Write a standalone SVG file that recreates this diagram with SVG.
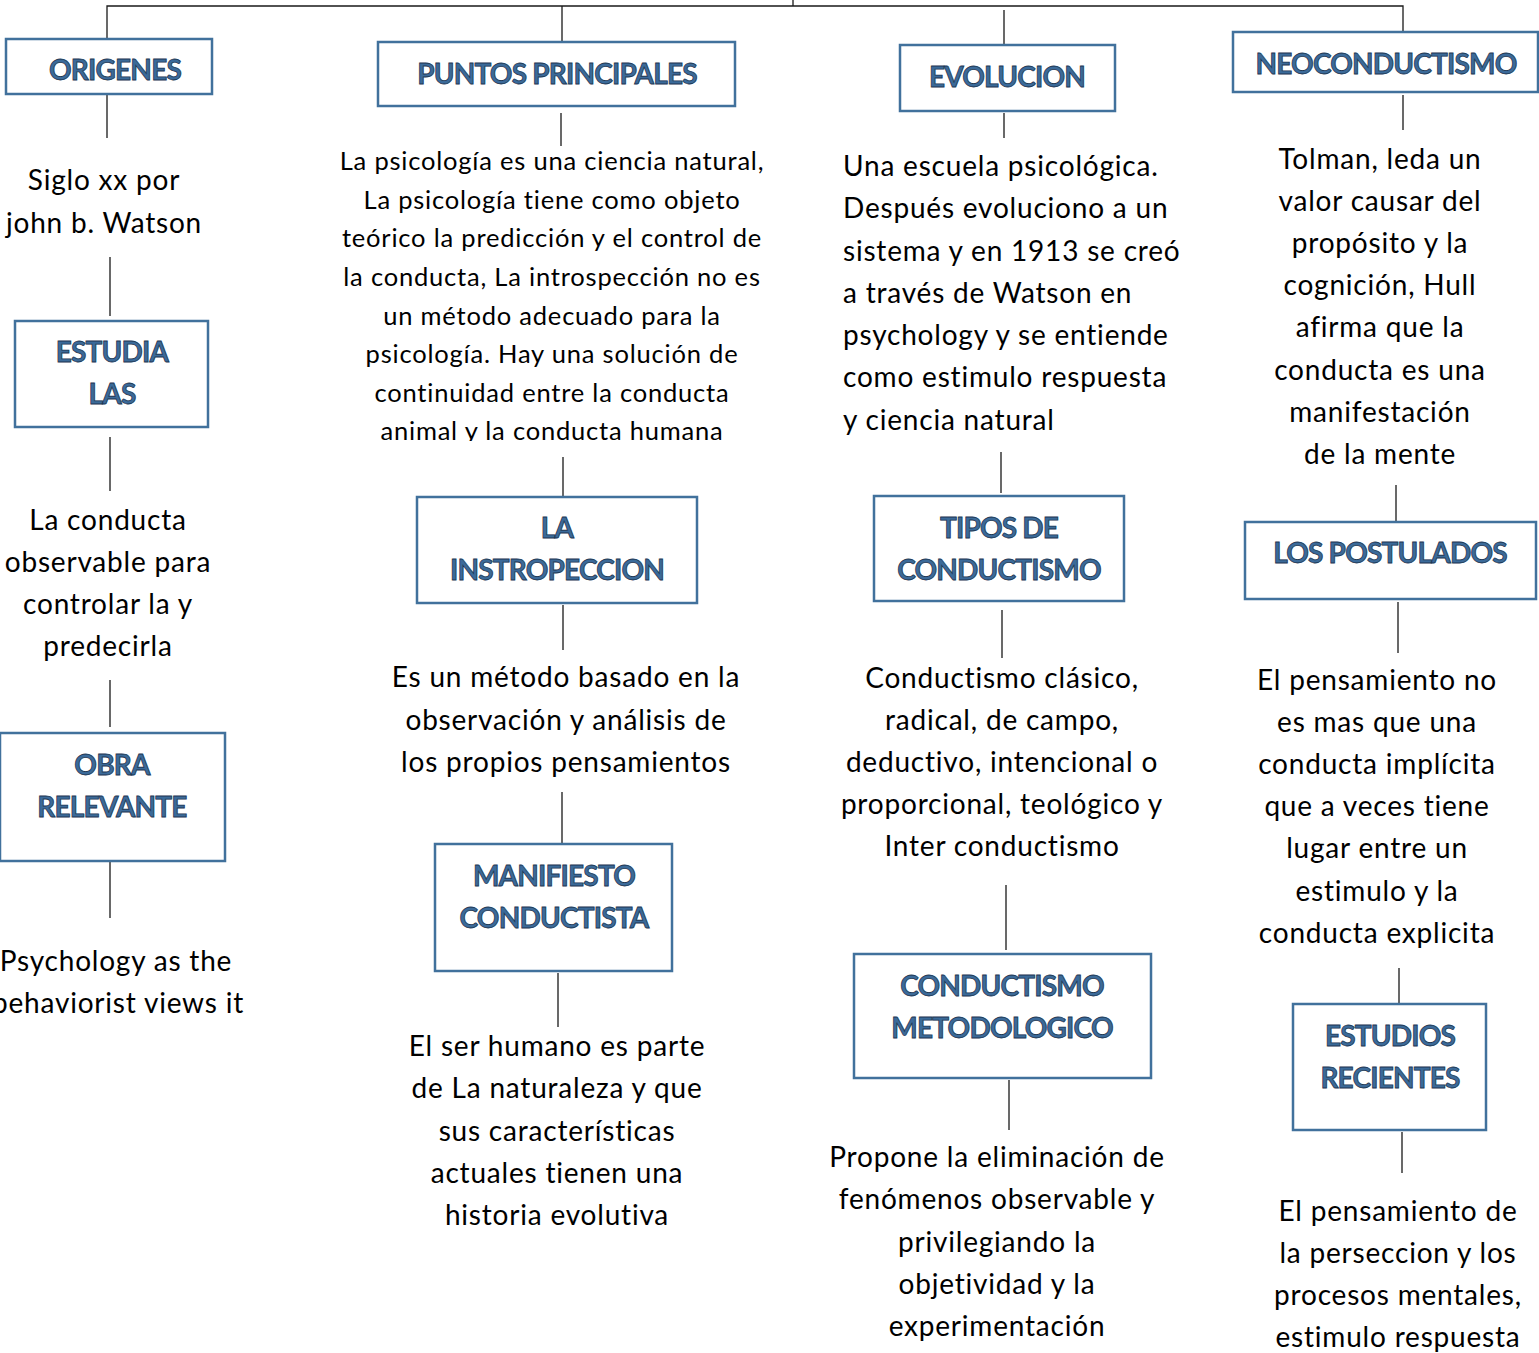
<svg xmlns="http://www.w3.org/2000/svg" width="1539" height="1353" viewBox="0 0 1539 1353">
<style>
.box{fill:#fff;stroke:#41719C;stroke-width:2.5}
.hd{font-family:Lato,"Open Sans",sans-serif;font-weight:bold;font-size:28px;letter-spacing:-0.8px;fill:#3B6A99;stroke:#1D3652;stroke-width:0.8;text-anchor:middle}
.tx{font-family:Lato,"Open Sans",sans-serif;font-size:28px;letter-spacing:0.8px;fill:#000;text-anchor:middle}
.tl{text-anchor:start}
.sm{font-size:25.5px}
.ln{stroke:#1a1a1a;stroke-width:1.3;fill:none}
</style>
<defs>
<clipPath id="clipP"><rect x="300" y="140" width="500" height="301"/></clipPath>
</defs>
<rect width="1539" height="1353" fill="#fff"/>
<g id="connectors">
<path class="ln" d="M107,38 V6 H1403 V34 M793,0 V6"/>
<path class="ln" d="M562,6 V42 M1004,10 V45"/>
<path class="ln" d="M107,92 V138 M110,257 V316 M110,437 V491 M110,680 V727 M110,862 V918"/>
<path class="ln" d="M561,113 V146 M563,457 V497 M563,605 V650 M562,792 V844 M558,973 V1027"/>
<path class="ln" d="M1004,113 V138 M1001,452 V493 M1002,610 V658 M1006,885 V950 M1009,1080 V1130"/>
<path class="ln" d="M1403,95 V130 M1396,485 V521 M1398,602 V653 M1399,968 V1004 M1402,1132 V1173"/>
</g>
<g id="origenes">
<rect class="box" x="6" y="39" width="206" height="55"/>
<text class="hd" x="115" y="80">ORIGENES</text>
</g>
<g id="origenes-text">
<text class="tx" x="104" y="190">Siglo xx por</text>
<text class="tx" x="104" y="233">john b. Watson</text>
</g>
<g id="estudia">
<rect class="box" x="15" y="321" width="193" height="106"/>
<text class="hd" x="112" y="362">ESTUDIA</text>
<text class="hd" x="112" y="404">LAS</text>
</g>
<g id="estudia-text">
<text class="tx" x="108" y="530">La conducta</text>
<text class="tx" x="108" y="572">observable para</text>
<text class="tx" x="108" y="614">controlar la y</text>
<text class="tx" x="108" y="656">predecirla</text>
</g>
<g id="obra">
<rect class="box" x="0" y="733" width="225" height="128"/>
<text class="hd" x="112" y="775">OBRA</text>
<text class="hd" x="112" y="817">RELEVANTE</text>
</g>
<g id="obra-text">
<text class="tx" x="116" y="971">Psychology as the</text>
<text class="tx" x="118" y="1013">behaviorist views it</text>
</g>
<g id="puntos">
<rect class="box" x="378" y="42" width="357" height="64"/>
<text class="hd" x="557" y="84">PUNTOS PRINCIPALES</text>
</g>
<g id="puntos-text" clip-path="url(#clipP)">
<text class="tx sm" x="552" y="170">La psicología es una ciencia natural,</text>
<text class="tx sm" x="552" y="209">La psicología tiene como objeto</text>
<text class="tx sm" x="552" y="247">teórico la predicción y el control de</text>
<text class="tx sm" x="552" y="286">la conducta, La introspección no es</text>
<text class="tx sm" x="552" y="325">un método adecuado para la</text>
<text class="tx sm" x="552" y="363">psicología. Hay una solución de</text>
<text class="tx sm" x="552" y="402">continuidad entre la conducta</text>
<text class="tx sm" x="552" y="440">animal y la conducta humana</text>
</g>
<g id="introspeccion">
<rect class="box" x="417" y="497" width="280" height="106"/>
<text class="hd" x="557" y="538">LA</text>
<text class="hd" x="557" y="580">INSTROPECCION</text>
</g>
<g id="introspeccion-text">
<text class="tx" x="566" y="687">Es un método basado en la</text>
<text class="tx" x="566" y="730">observación y análisis de</text>
<text class="tx" x="566" y="772">los propios pensamientos</text>
</g>
<g id="manifiesto">
<rect class="box" x="435" y="844" width="237" height="127"/>
<text class="hd" x="554" y="886">MANIFIESTO</text>
<text class="hd" x="554" y="928">CONDUCTISTA</text>
</g>
<g id="manifiesto-text">
<text class="tx" x="557" y="1056">El ser humano es parte</text>
<text class="tx" x="557" y="1098">de La naturaleza y que</text>
<text class="tx" x="557" y="1141">sus características</text>
<text class="tx" x="557" y="1183">actuales tienen una</text>
<text class="tx" x="557" y="1225">historia evolutiva</text>
</g>
<g id="evolucion">
<rect class="box" x="900" y="45" width="215" height="66"/>
<text class="hd" x="1007" y="87">EVOLUCION</text>
</g>
<g id="evolucion-text">
<text class="tx tl" x="843" y="176">Una escuela psicológica.</text>
<text class="tx tl" x="843" y="218">Después evoluciono a un</text>
<text class="tx tl" x="843" y="261">sistema y en 1913 se creó</text>
<text class="tx tl" x="843" y="303">a través de Watson en</text>
<text class="tx tl" x="843" y="345">psychology y se entiende</text>
<text class="tx tl" x="843" y="387">como estimulo respuesta</text>
<text class="tx tl" x="843" y="430">y ciencia natural</text>
</g>
<g id="tipos">
<rect class="box" x="874" y="496" width="250" height="105"/>
<text class="hd" x="999" y="538">TIPOS DE</text>
<text class="hd" x="999" y="580">CONDUCTISMO</text>
</g>
<g id="tipos-text">
<text class="tx" x="1002" y="688">Conductismo clásico,</text>
<text class="tx" x="1002" y="730">radical, de campo,</text>
<text class="tx" x="1002" y="772">deductivo, intencional o</text>
<text class="tx" x="1002" y="814">proporcional, teológico y</text>
<text class="tx" x="1002" y="856">Inter conductismo</text>
</g>
<g id="metodologico">
<rect class="box" x="854" y="954" width="297" height="124"/>
<text class="hd" x="1002" y="996">CONDUCTISMO</text>
<text class="hd" x="1002" y="1038">METODOLOGICO</text>
</g>
<g id="metodologico-text">
<text class="tx" x="997" y="1167">Propone la eliminación de</text>
<text class="tx" x="997" y="1209">fenómenos observable y</text>
<text class="tx" x="997" y="1252">privilegiando la</text>
<text class="tx" x="997" y="1294">objetividad y la</text>
<text class="tx" x="997" y="1336">experimentación</text>
</g>
<g id="neoconductismo">
<rect class="box" x="1233" y="32" width="305" height="60"/>
<text class="hd" x="1386" y="74">NEOCONDUCTISMO</text>
</g>
<g id="neoconductismo-text">
<text class="tx" x="1380" y="169">Tolman, leda un</text>
<text class="tx" x="1380" y="211">valor causar del</text>
<text class="tx" x="1380" y="253">propósito y la</text>
<text class="tx" x="1380" y="295">cognición, Hull</text>
<text class="tx" x="1380" y="337">afirma que la</text>
<text class="tx" x="1380" y="380">conducta es una</text>
<text class="tx" x="1380" y="422">manifestación</text>
<text class="tx" x="1380" y="464">de la mente</text>
</g>
<g id="postulados">
<rect class="box" x="1245" y="522" width="291" height="77"/>
<text class="hd" x="1390" y="563">LOS POSTULADOS</text>
</g>
<g id="postulados-text">
<text class="tx" x="1377" y="690">El pensamiento no</text>
<text class="tx" x="1377" y="732">es mas que una</text>
<text class="tx" x="1377" y="774">conducta implícita</text>
<text class="tx" x="1377" y="816">que a veces tiene</text>
<text class="tx" x="1377" y="858">lugar entre un</text>
<text class="tx" x="1377" y="901">estimulo y la</text>
<text class="tx" x="1377" y="943">conducta explicita</text>
</g>
<g id="estudios">
<rect class="box" x="1293" y="1004" width="193" height="126"/>
<text class="hd" x="1390" y="1046">ESTUDIOS</text>
<text class="hd" x="1390" y="1088">RECIENTES</text>
</g>
<g id="estudios-text">
<text class="tx" x="1398" y="1221">El pensamiento de</text>
<text class="tx" x="1398" y="1263">la perseccion y los</text>
<text class="tx" x="1398" y="1305">procesos mentales,</text>
<text class="tx" x="1398" y="1347">estimulo respuesta</text>
</g>
</svg>
